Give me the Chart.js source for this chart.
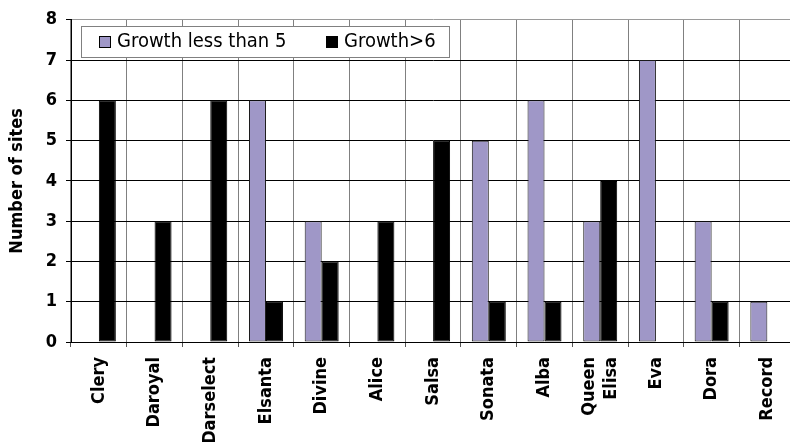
<!DOCTYPE html>
<html>
<head>
<meta charset="utf-8">
<script src="https://cdn.jsdelivr.net/npm/chart.js@4.4.0/dist/chart.umd.min.js"></script>
<style>
  html, body { margin: 0; padding: 0; background: #fff; overflow: hidden; }
  #wrap { position: absolute; left: 0; top: 0; width: 800px; height: 442px; }
</style>
</head>
<body>
<div id="wrap"><canvas id="c"></canvas></div>
<script>
const categories = ['Clery', 'Daroyal', 'Darselect', 'Elsanta', 'Divine', 'Alice', 'Salsa', 'Sonata', 'Alba', ['Queen', 'Elisa'], 'Eva', 'Dora', 'Record'];
const growthLessThan5 = [0, 0, 0, 6, 3, 0, 0, 5, 6, 3, 7, 3, 1];
const growthMoreThan6 = [6, 3, 6, 1, 2, 3, 5, 1, 1, 4, 0, 1, 0];
const seriesNames = ['Growth less than 5', 'Growth>6'];
const yTicks = [0, 1, 2, 3, 4, 5, 6, 7, 8];

const PURPLE = '#9F97C7';
const FONT = "'DejaVu Sans Condensed', 'DejaVu Sans', sans-serif";

const legendPlugin = {
  id: 'boxLegend',
  beforeDraw(chart) {
    // center multi-line category labels on their tick
    const sc = chart.scales.x;
    const items = sc.getLabelItems(chart.chartArea);
    items.forEach(it => {
      if (Array.isArray(it.label) && it.label.length > 1 && !it._shifted) {
        const lh = it.font.lineHeight;
        it.options.translation[0] -= lh * (it.label.length - 1) / 2;
        it._shifted = true;
      }
    });
  },
  afterDraw(chart) {
    const ctx = chart.ctx;
    ctx.save();
    ctx.fillStyle = '#fff';
    ctx.fillRect(81, 26, 369, 31);
    ctx.strokeStyle = '#808080';
    ctx.lineWidth = 1;
    ctx.strokeRect(81.5, 26.5, 368, 31);
    const items = [
      { sq: 99, tx: 117, color: PURPLE, text: seriesNames[0] },
      { sq: 326, tx: 344, color: '#000', text: seriesNames[1] }
    ];
    ctx.font = "20px " + FONT;
    ctx.textBaseline = 'middle';
    ctx.textAlign = 'left';
    items.forEach(it => {
      ctx.fillStyle = it.color;
      ctx.fillRect(it.sq, 36, 12, 12);
      ctx.strokeStyle = '#000';
      ctx.strokeRect(it.sq + 0.5, 36.5, 11, 11);
      ctx.fillStyle = '#000';
      ctx.fillText(it.text, it.tx, 42);
    });
    ctx.restore();
  }
};

new Chart(document.getElementById('c'), {
  type: 'bar',
  data: {
    labels: categories,
    datasets: [
      { label: seriesNames[0], data: growthLessThan5, backgroundColor: PURPLE, borderColor: '#1a1a1a', borderWidth: 1, borderSkipped: false },
      { label: seriesNames[1], data: growthMoreThan6, backgroundColor: '#000', borderColor: '#000', borderWidth: 1, borderSkipped: false }
    ]
  },
  options: {
    responsive: true,
    maintainAspectRatio: false,
    animation: false,
    devicePixelRatio: 1,
    layout: { padding: { left: 0, top: 19, right: 4, bottom: 0 } },
    datasets: { bar: { categoryPercentage: 0.61, barPercentage: 1.0 } },
    plugins: { legend: { display: false }, tooltip: { enabled: false } },
    scales: {
      x: {
        grid: { display: true, offset: true, color: '#808080', lineWidth: 1, tickLength: 5, tickColor: '#555' },
        border: { display: true, color: '#000', width: 1 },
        ticks: { color: '#000', font: { family: FONT, size: 18, weight: 'bold', lineHeight: 1.25 }, minRotation: 90, maxRotation: 90, autoSkip: false, padding: 10 },
        afterFit(scale) { scale.height = 100; }
      },
      y: {
        min: 0, max: 8,
        afterBuildTicks(scale) { scale.ticks = yTicks.map(v => ({ value: v })); },
        grid: {
          color: ctx => (ctx.tick && ctx.tick.value === 8) ? '#9a9a9a' : '#000',
          lineWidth: 1, tickLength: 5, tickColor: '#000'
        },
        border: { display: true, color: '#000', width: 1 },
        ticks: { color: '#000', font: { family: FONT, size: 18, weight: 'bold' }, padding: 9 },
        title: { display: true, text: 'Number of sites', color: '#000', font: { family: FONT, size: 18, weight: 'bold' }, padding: { top: 7, bottom: 0 } },
        afterFit(scale) { scale.width = 71; }
      }
    }
  },
  plugins: [legendPlugin]
});
</script>
</body>
</html>
